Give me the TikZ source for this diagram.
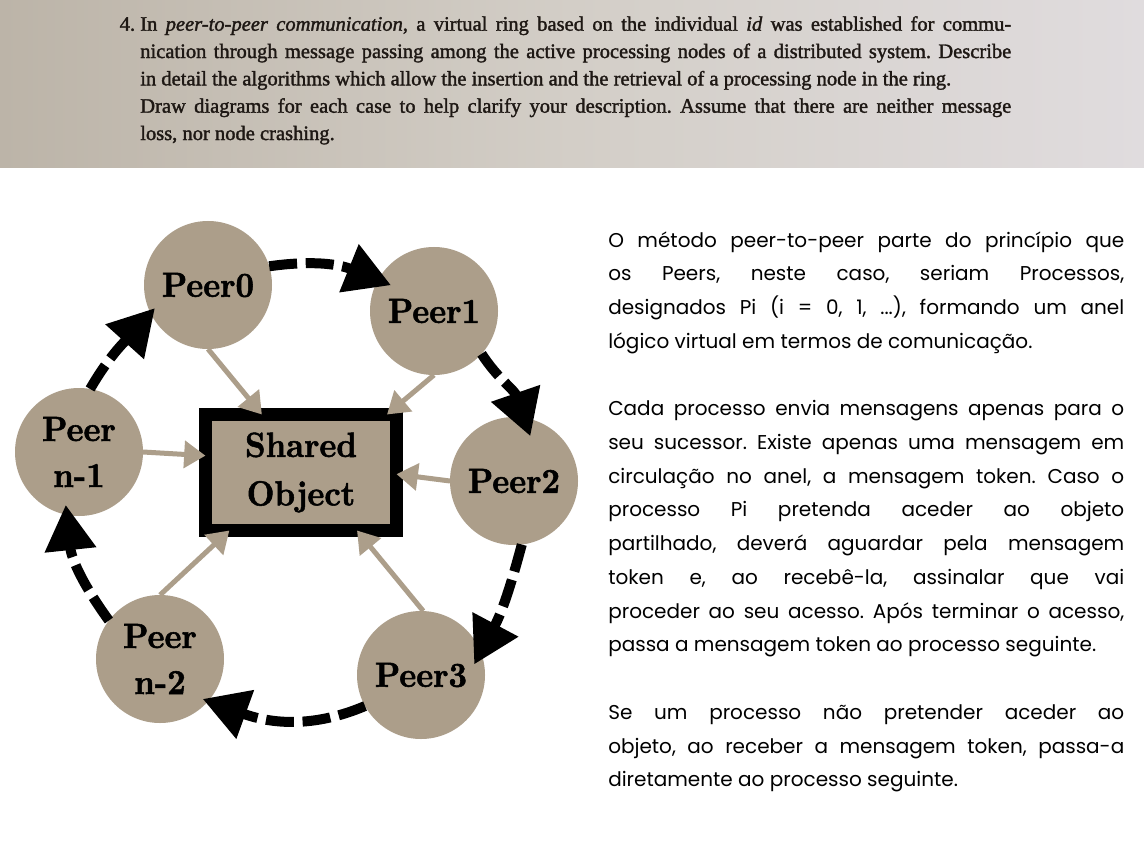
\documentclass[tikz,border=0pt]{standalone}
\usepackage{fontspec}
\usetikzlibrary{arrows.meta}
\newfontfamily\photofont{Liberation Serif}[FakeBold=1.6]
\newfontfamily\bodyfont{Poppins}
\newfontfamily\peerfam{lmroman10-bold}[Extension=.otf, FakeStretch=0.92, FakeBold=1.5]
\definecolor{peertan}{HTML}{AC9E8A}
\definecolor{photoL}{HTML}{BCB4A8}
\definecolor{photoM}{HTML}{D3CEC7}
\definecolor{photoR}{HTML}{E0DCDE}
\definecolor{inkc}{HTML}{1E1814}
\newcommand\peerfont{\peerfam\fontsize{26.25pt}{34.5pt}\selectfont}
\newcommand\jline[1]{\hbox to \hsize{#1}}
\newcommand\rline[1]{\hbox{#1}}
\frenchspacing
\tikzset{
  peer/.style={circle, fill=peertan, minimum size=96pt, inner sep=0pt, outer sep=0pt, font=\peerfont, align=center},
  shared/.style={rectangle, draw=black, line width=9.75pt, fill=peertan, minimum width=143.25pt, minimum height=87pt, inner sep=0pt, outer sep=0pt, font=\peerfam\fontsize{26.25pt}{36.4pt}\selectfont, align=center},
  ring/.style={line width=7.5pt, dash pattern=on 21pt off 6.5pt, -{Triangle[length=34pt,width=37pt]}},
  feed/.style={draw=peertan, line width=3.75pt, -{Triangle[length=16pt,width=20pt]}},
}
\begin{document}
\begin{tikzpicture}[x=0.75pt,y=0.75pt]
\useasboundingbox (0,0) rectangle (1144,851);
\fill[white] (0,0) rectangle (1144,851);
\shade[left color=photoL, right color=photoR, middle color=photoM] (0,683) rectangle (1144,851);
% exam question
\node[anchor=base west, inner sep=0pt, text=inkc] (question) at (140,820.3) {\parbox[t]{653.25pt}{\photofont\fontsize{15.4pt}{20.5pt}\selectfont
\jline{\llap{4.\ }In \textit{peer-to-peer communication}, a virtual ring based on the individual \textit{id} was established for commu-}
\jline{nication through message passing among the active processing nodes of a distributed system. Describe}
\rline{in detail the algorithms which allow the insertion and the retrieval of a processing node in the ring.}
\jline{Draw diagrams for each case to help clarify your description. Assume that there are neither message}
\rline{loss, nor node crashing.}}};
% answer text
\node[anchor=base west, inner sep=0pt, text=black] (answer) at (608,604) {\parbox[t]{387pt}{\bodyfont\fontsize{15pt}{25.3pt}\selectfont
\jline{O método peer-to-peer parte do princípio que}
\jline{os Peers, neste caso, seriam Processos,}
\jline{designados Pi (i = 0, 1, ...), formando um anel}
\rline{lógico virtual em termos de comunicação.}
\hbox{}
\jline{Cada processo envia mensagens apenas para o}
\jline{seu sucessor. Existe apenas uma mensagem em}
\jline{circulação no anel, a mensagem token. Caso o}
\jline{processo Pi pretenda aceder ao objeto}
\jline{partilhado, deverá aguardar pela mensagem}
\jline{token e, ao recebê-la, assinalar que vai}
\jline{proceder ao seu acesso. Após terminar o acesso,}
\rline{passa a mensagem token ao processo seguinte.}
\hbox{}
\jline{Se um processo não pretender aceder ao}
\jline{objeto, ao receber a mensagem token, passa-a}
\rline{diretamente ao processo seguinte.}}};
% diagram
\node[peer] (p0) at (208,566) {Peer0};
\node[peer] (p1) at (434,540) {Peer1};
\node[peer] (p2) at (514,370) {Peer2};
\node[peer] (p3) at (421,176) {Peer3};
\node[peer] (pn2) at (160,192) {Peer\\n-2};
\node[peer] (pn1) at (79,399) {Peer\\n-1};
\node[shared] (obj) at (301,378.5) {Shared\\Object};
\draw[feed] (p0.-90) -- (obj.124);
\draw[feed] (p1.-90) -- (obj.34);
\draw[feed] (pn1.0) -- (obj.170);
\draw[feed] (p2.180) -- (obj.-1);
\draw[feed] (pn2.90) -- (obj.219);
\draw[feed] (p3.88) -- (obj.-46);
\draw[ring, shorten >=-10.5pt] (p0.17) to[out=8,in=158] (p1.151);
\draw[ring, shorten >=-14.6pt] (p1.-42) to[out=-57,in=109] (p2.81);
\draw[ring, shorten >=-10.5pt] (p2.-83) to[out=-105,in=62] (p3.21);
\draw[ring, shorten >=-4.5pt] (p3.-151) to[out=203,in=-20] (pn2.-41);
\draw[ring, shorten >=-7.5pt] (pn2.143) to[out=126,in=-84] (pn1.-101);
\draw[ring, shorten >=-5pt] (pn1.80) to[out=60,in=228] (p0.206);
\end{tikzpicture}
\end{document}
